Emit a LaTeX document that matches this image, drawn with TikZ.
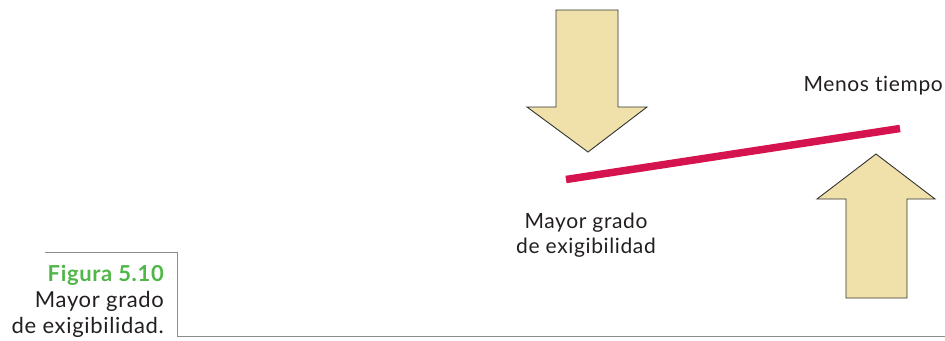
\documentclass[tikz,border=0pt]{standalone}
\usepackage{fontspec}
\setmainfont[Ligatures=NoCommon, LetterSpace=3]{Lato}
\definecolor{arrowfill}{RGB}{240,225,170}
\definecolor{arrowline}{RGB}{50,50,50}
\definecolor{linered}{RGB}{213,19,79}
\definecolor{figgreen}{RGB}{80,182,72}
\definecolor{framegray}{RGB}{140,140,140}
\definecolor{txt}{RGB}{35,31,32}
\tikzset{
  bigarrow/.style={fill=arrowfill, draw=arrowline, line width=0.9pt, line join=miter},
  label text/.style={inner sep=0pt, text=txt, font=\fontsize{21}{25}\selectfont, align=center},
  caption text/.style={inner sep=0pt, text=txt, font=\fontsize{22}{26}\selectfont, align=right},
  frame line/.style={draw=framegray, line width=0.8pt},
  red bar/.style={draw=linered, line width=7.5pt}
}
\begin{document}
\begin{tikzpicture}[x=1pt,y=-1pt]
\useasboundingbox (0,0) rectangle (945,340);
% down arrow
\draw[bigarrow] (556,10) -- (618,10) -- (618,107) -- (647,107) -- (588,152) -- (527,107) -- (556,107) -- cycle;
% up arrow
\draw[bigarrow] (846,298) -- (907,298) -- (907,199) -- (935,199) -- (876,154) -- (817,199) -- (846,199) -- cycle;
% red line
\coordinate (rs) at (566,179.5);
\coordinate (re) at (900,128.5);
\draw[red bar] (rs) -- (re);
% labels
\node[label text, anchor=north] (mayor) at (586,213) {Mayor grado\\de exigibilidad};
\node[label text, anchor=base east] (menos) at (943,91) {Menos tiempo};
% caption frame
\coordinate (f1) at (45,252.5);
\coordinate (f2) at (177,252.5);
\coordinate (f3) at (177,336.5);
\coordinate (f4) at (945,336.5);
\draw[frame line] (f1) -- (f2) -- (f3) -- (f4);
\node[caption text, anchor=north east] (cap) at (164,265) {{\color{figgreen}\bfseries Figura 5.10}\\Mayor grado\\de exigibilidad.};
\end{tikzpicture}
\end{document}
